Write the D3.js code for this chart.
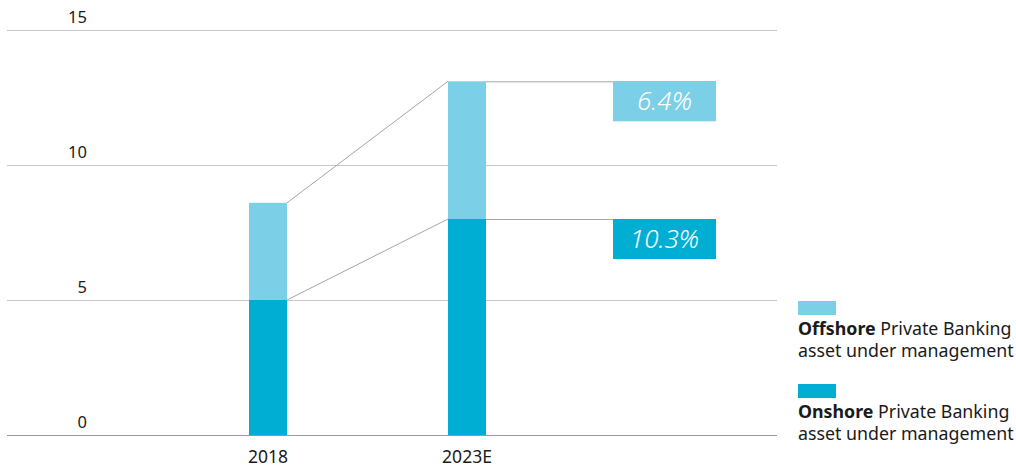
<!DOCTYPE html>
<html>
<head>
<meta charset="utf-8">
<script src="https://cdn.jsdelivr.net/npm/d3@7"></script>
<style>
  body { margin: 0; background: #fff; }
  text { font-family: "Noto Sans", "Open Sans", sans-serif; fill: #1a1a1a; }
</style>
</head>
<body>
<div id="chart"></div>
<script>
const width = 1016, height = 468;

// data
const years = ["2018", "2023E"];
const onshore = [5.0, 8.0];
const offshore = [3.6, 5.1];
const yTicks = [0, 5, 10, 15];
const growthLabels = ["6.4%", "10.3%"]; // offshore, onshore CAGR
const legendNames = ["Offshore", "Onshore"];
const legendRest = "Private Banking";
const legendLine2 = "asset under management";

const colLight = "#7bcfe6", colDark = "#00aed4";

const svg = d3.select("#chart")
    .append("svg")
    .attr("width", width)
    .attr("height", height);

const y = d3.scaleLinear().domain([0, 15]).range([435, 30]);
const x = d3.scaleBand().domain(years).range([149.5, 585.5])
    .paddingInner(161 / 199).paddingOuter(0.5);

// gridlines
svg.append("g").selectAll("line")
    .data(yTicks)
    .join("line")
    .attr("x1", 7).attr("x2", 777)
    .attr("y1", d => Math.round(y(d)) + 0.5).attr("y2", d => Math.round(y(d)) + 0.5)
    .attr("stroke", d => d === 0 ? "#999" : "#c8c8c8")
    .attr("stroke-width", 1);

// y tick labels
svg.append("g").selectAll("text")
    .data(yTicks)
    .join("text")
    .attr("x", 87)
    .attr("y", d => y(d) - 7)
    .attr("text-anchor", "end")
    .attr("font-size", 16.5)
    .text(d => d);

// connector lines between the bars and on to the growth boxes
const bw = x.bandwidth();
const tops = [
    years.map((yr, i) => onshore[i] + offshore[i]),
    onshore
];
const conn = svg.append("g").attr("stroke", "#a6a6a6").attr("fill", "none").attr("stroke-width", 1);
tops.forEach(t => {
    conn.append("path")
        .attr("d", d3.line()([
            [x(years[0]) + bw, y(t[0])],
            [x(years[1]), y(t[1])]
        ]));
    conn.append("path")
        .attr("d", d3.line()([
            [x(years[1]) + bw, y(t[1]) + 0.5],
            [716, y(t[1]) + 0.5]
        ]));
});

// bars
const bars = svg.append("g");
bars.selectAll("rect.on")
    .data(years)
    .join("rect")
    .attr("class", "on")
    .attr("x", d => x(d))
    .attr("width", bw)
    .attr("y", (d, i) => y(onshore[i]))
    .attr("height", (d, i) => y(0) - y(onshore[i]))
    .attr("fill", colDark);
bars.selectAll("rect.off")
    .data(years)
    .join("rect")
    .attr("class", "off")
    .attr("x", d => x(d))
    .attr("width", bw)
    .attr("y", (d, i) => y(onshore[i] + offshore[i]))
    .attr("height", (d, i) => y(onshore[i]) - y(onshore[i] + offshore[i]))
    .attr("fill", colLight);

// growth boxes
const boxTops = [tops[0][1], tops[1][1]];
const boxCols = [colLight, colDark];
growthLabels.forEach((lab, i) => {
    const g = svg.append("g").attr("transform", `translate(613,${y(boxTops[i])})`);
    g.append("rect").attr("width", 103).attr("height", 40).attr("fill", boxCols[i]);
    g.append("text")
        .attr("x", 51.5).attr("y", 29)
        .attr("text-anchor", "middle")
        .attr("font-size", 26)
        .attr("font-style", "italic")
        .attr("font-weight", 300)
        .style("fill", "#fff")
        .text(lab);
});

// x labels
svg.append("g").selectAll("text")
    .data(years)
    .join("text")
    .attr("x", d => x(d) + bw / 2)
    .attr("y", 463)
    .attr("text-anchor", "middle")
    .attr("font-size", 17.5)
    .text(d => d);

// legend
const legTop = [301, 384];
const legCols = [colLight, colDark];
legendNames.forEach((name, i) => {
    const g = svg.append("g").attr("transform", `translate(798,${legTop[i]})`);
    g.append("rect").attr("width", 38).attr("height", 14).attr("fill", legCols[i]);
    const t1 = g.append("text").attr("x", 0).attr("y", 34).attr("font-size", 17.8);
    t1.append("tspan").attr("font-weight", "bold").text(name);
    t1.append("tspan").text(" " + legendRest);
    g.append("text").attr("x", 0).attr("y", 56).attr("font-size", 17.8).text(legendLine2);
});
</script>
</body>
</html>
